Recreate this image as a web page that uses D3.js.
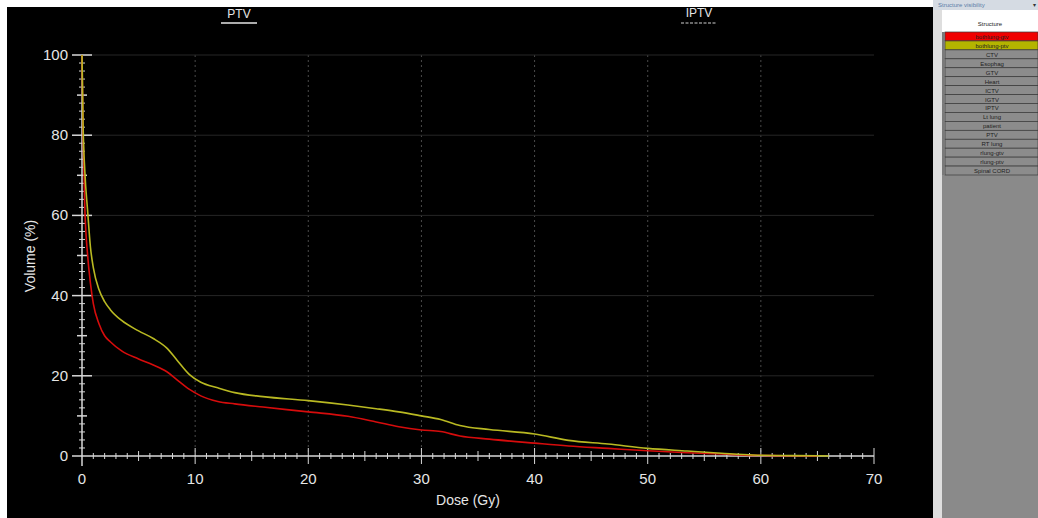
<!DOCTYPE html>
<html>
<head>
<meta charset="utf-8">
<script src="https://cdn.jsdelivr.net/npm/d3@7"></script>
<style>
  body { margin: 0; background: #fff; }
  svg { display: block; font-family: "Liberation Sans", Arial, sans-serif; }
</style>
</head>
<body>
<script>
// dose grid (Gy) and the two DVH curves (volume %)
const dose = [0, 0.1, 0.25, 0.5, 0.75, 1, 1.5, 2, 2.5, 3.5, 5, 6.3, 7.5, 8.4, 9.5, 10.5, 12, 13.5, 16, 20,
  23.5, 26, 28, 30, 31.7, 33.4, 36, 40, 43, 46.5, 50, 53.5, 56.5, 59.3, 62, 65, 66]
const ptvVolume = [100, 82, 71, 61, 52, 47, 41.5, 38.5, 36.5, 33.8, 31.2, 29.3, 26.9, 23.9, 20.3, 18.4, 17.0, 15.8, 14.8, 13.8,
  12.7, 11.8, 11.0, 10.0, 9.1, 7.6, 6.6, 5.5, 3.9, 3.0, 1.9, 1.25, 0.7, 0.25, 0.12, 0.05, 0]
const gtvVolume = [100, 80, 62, 50, 43, 38, 33, 30, 28.5, 26.2, 24.2, 22.7, 21.0, 19.0, 16.6, 15.0, 13.6, 13.0, 12.2, 11.0,
  9.9, 8.5, 7.3, 6.5, 6.1, 5.0, 4.2, 3.2, 2.5, 1.9, 1.3, 0.8, 0.5, 0.15, 0.08, 0, 0]

const xTicks = [0, 10, 20, 30, 40, 50, 60, 70]
const yTicks = [0, 20, 40, 60, 80, 100]
const structures = ["bothlung-gtv", "bothlung-ptv", "CTV", "Esophag", "GTV", "Heart", "ICTV", "IGTV", "IPTV",
  "Lt lung", "patient", "PTV", "RT lung", "rlung-gtv", "rlung-ptv", "Spinal CORD"]
const structureColors = { "bothlung-gtv": "#f00000", "bothlung-ptv": "#b4b400" }

var width = 1038
var height = 518

var svg = d3.select("body").append("svg")
  .attr("width", width)
  .attr("height", height)

// plot background
svg.append("rect").attr("x", 7).attr("y", 7).attr("width", 926).attr("height", 511).attr("fill", "#000")

var x = d3.scaleLinear().domain([0, 70]).range([82, 874])
var y = d3.scaleLinear().domain([0, 100]).range([456, 55])

// grid
svg.append("g").selectAll("line").data(xTicks.filter(d => d > 0 && d < 70)).enter()
  .append("line")
  .attr("x1", d => x(d)).attr("x2", d => x(d))
  .attr("y1", y(100)).attr("y2", y(0))
  .attr("stroke", "#4a4a4a").attr("stroke-width", 1).attr("stroke-dasharray", "2,3")
svg.append("g").selectAll("line").data(yTicks.filter(d => d > 0)).enter()
  .append("line")
  .attr("x1", x(0)).attr("x2", x(70))
  .attr("y1", d => y(d)).attr("y2", d => y(d))
  .attr("stroke", "#262626").attr("stroke-width", 1)

// axes lines
var axisColor = "#d8d8d8"
svg.append("line").attr("x1", x(0) - 10).attr("x2", x(70)).attr("y1", y(0)).attr("y2", y(0))
  .attr("stroke", axisColor).attr("stroke-width", 1.5)
svg.append("line").attr("x1", x(0)).attr("x2", x(0)).attr("y1", y(100)).attr("y2", y(0) + 10)
  .attr("stroke", axisColor).attr("stroke-width", 1.5)

// x ticks, every 1 Gy
svg.append("g").selectAll("line").data(d3.range(1, 71)).enter()
  .append("line")
  .attr("x1", d => x(d)).attr("x2", d => x(d))
  .attr("y1", d => y(0) - (d % 10 == 0 ? 8 : d % 5 == 0 ? 5 : 3))
  .attr("y2", d => y(0) + (d % 10 == 0 ? 8 : d % 5 == 0 ? 5 : 3))
  .attr("stroke", axisColor).attr("stroke-width", 1)

// y ticks, every 2 %
svg.append("g").selectAll("line").data(d3.range(2, 101, 2)).enter()
  .append("line")
  .attr("x1", d => x(0) - (d % 20 == 0 ? 10 : d % 10 == 0 ? 5 : 3))
  .attr("x2", d => x(0) + (d % 20 == 0 ? 10 : d % 10 == 0 ? 5 : 3))
  .attr("y1", d => y(d)).attr("y2", d => y(d))
  .attr("stroke", axisColor).attr("stroke-width", d => d % 10 == 0 ? 1.5 : 1)

// tick labels
svg.append("g").selectAll("text").data(xTicks).enter()
  .append("text")
  .attr("x", d => x(d)).attr("y", y(0) + 28)
  .attr("text-anchor", "middle").attr("fill", "#e6e6e6").attr("font-size", 15)
  .text(d => d)
svg.append("g").selectAll("text").data(yTicks).enter()
  .append("text")
  .attr("x", x(0) - 14).attr("y", d => y(d) + 5)
  .attr("text-anchor", "end").attr("fill", "#e6e6e6").attr("font-size", 15)
  .text(d => d)

// axis titles
svg.append("text").attr("x", 468).attr("y", 505).attr("text-anchor", "middle")
  .attr("fill", "#e6e6e6").attr("font-size", 14).text("Dose (Gy)")
svg.append("text").attr("transform", "translate(35,256) rotate(-90)").attr("text-anchor", "middle")
  .attr("fill", "#e6e6e6").attr("font-size", 14).text("Volume (%)")

// legend titles
svg.append("text").attr("x", 239).attr("y", 18).attr("text-anchor", "middle")
  .attr("fill", "#e6e6e6").attr("font-size", 12).text("PTV")
svg.append("line").attr("x1", 221).attr("x2", 257).attr("y1", 23).attr("y2", 23)
  .attr("stroke", "#e6e6e6").attr("stroke-width", 1.5)
svg.append("text").attr("x", 699).attr("y", 17).attr("text-anchor", "middle")
  .attr("fill", "#e6e6e6").attr("font-size", 12).text("IPTV")
svg.append("line").attr("x1", 681).attr("x2", 717).attr("y1", 23).attr("y2", 23)
  .attr("stroke", "#d0d0d0").attr("stroke-width", 1.2).attr("stroke-dasharray", "3,1.5")

// DVH curves
var line = d3.line().x(d => x(d[0])).y(d => y(d[1])).curve(d3.curveMonotoneX)
svg.append("path").datum(d3.zip(dose, gtvVolume).filter(d => d[0] <= 65))
  .attr("d", line).attr("fill", "none").attr("stroke", "#d60c0c").attr("stroke-width", 1.6)
svg.append("path").datum(d3.zip(dose, ptvVolume))
  .attr("d", line).attr("fill", "none").attr("stroke", "#b9b922").attr("stroke-width", 1.6)

// structure visibility panel
svg.append("rect").attr("x", 933).attr("y", 7).attr("width", 9).attr("height", 511).attr("fill", "#dedede")
svg.append("rect").attr("x", 942).attr("y", 0).attr("width", 96).attr("height", 518).attr("fill", "#8a8a8a")
svg.append("rect").attr("x", 933).attr("y", 0).attr("width", 105).attr("height", 10).attr("fill", "#d5dbe3")
svg.append("text").attr("x", 938).attr("y", 7).attr("fill", "#5a7da8").attr("font-size", 6).text("Structure visibility")
svg.append("text").attr("x", 1033).attr("y", 7).attr("fill", "#333").attr("font-size", 6).text("▾")
svg.append("rect").attr("x", 942).attr("y", 10).attr("width", 96).attr("height", 22).attr("fill", "#fff")
svg.append("text").attr("x", 990).attr("y", 26).attr("text-anchor", "middle")
  .attr("fill", "#222").attr("font-size", 6).text("Structure")

var rowY = d3.scaleBand().domain(structures).range([32, 175])
var rows = svg.append("g").selectAll("g").data(structures).enter().append("g")
rows.append("rect")
  .attr("x", 945).attr("y", d => rowY(d)).attr("width", 93).attr("height", rowY.bandwidth())
  .attr("fill", d => structureColors[d] || "#8c8c8c")
  .attr("stroke", "#3a3a3a").attr("stroke-width", 0.7)
rows.append("rect")
  .attr("x", 942).attr("y", d => rowY(d)).attr("width", 3).attr("height", rowY.bandwidth())
  .attr("fill", "#7a7a7a")
rows.append("text")
  .attr("x", 992).attr("y", d => rowY(d) + rowY.bandwidth() - 2)
  .attr("text-anchor", "middle").attr("font-size", 6).attr("fill", "#222")
  .text(d => d)
</script>
</body>
</html>
